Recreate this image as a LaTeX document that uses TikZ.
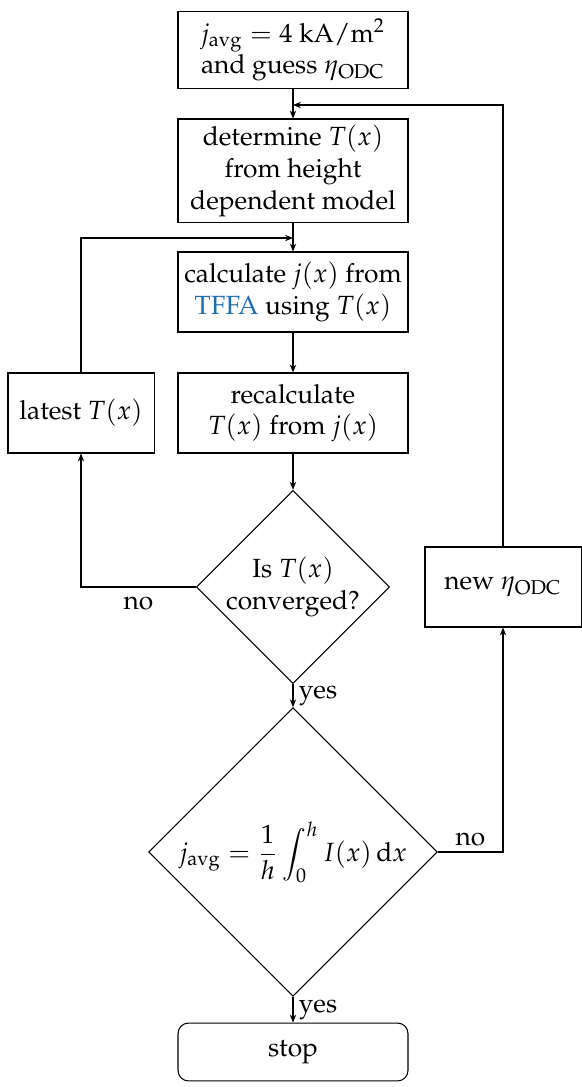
\documentclass[tikz,border=0pt]{standalone}
\usepackage[T1]{fontenc}
\usepackage{mathpazo}
\usetikzlibrary{shapes.geometric,arrows.meta}
\definecolor{linkblue}{RGB}{30,110,180}
\begin{document}
\begin{tikzpicture}[x=0.38pt,y=-0.38pt,
  line width=0.4pt,
  flow/.style={-{Stealth[length=3pt,width=2.4pt]}},
  procbox/.style={draw, rectangle, align=center, inner sep=0pt,
    minimum width=87.4pt, minimum height=30.4pt},
  sidebox/.style={draw, rectangle, align=center, inner sep=0pt,
    minimum height=30.4pt},
  decision/.style={draw, diamond, aspect=1, align=center, inner sep=0pt},
  endbox/.style={draw, rectangle, rounded corners=4pt, align=center,
    inner sep=0pt, minimum width=87.4pt, minimum height=22pt},
  lbl/.style={inner sep=2pt}
]
\useasboundingbox (0,0) rectangle (581,1087);

% main column
\node[procbox, minimum height=29.6pt] (init) at (293,50)
  {$j_{\mathrm{avg}} = 4\ \mathrm{kA/m^2}$\\ and guess $\eta_{\mathrm{ODC}}$};
\node[procbox, minimum height=39.5pt] (model) at (293,171)
  {determine $T(x)$\\ from height\\ dependent model};
\node[procbox] (tffa) at (293,292)
  {calculate $j(x)$ from\\ \textcolor{linkblue}{TFFA} using $T(x)$};
\node[procbox] (recalc) at (293,413)
  {recalculate\\ $T(x)$ from $j(x)$};
\node[decision, minimum width=72.2pt, minimum height=71.4pt] (conv) at (293,587)
  {Is $T(x)$\\ converged?};
\node[decision, minimum width=106.4pt, minimum height=106.4pt] (avg) at (293,852)
  {$\displaystyle j_{\mathrm{avg}} = \frac{1}{h}\int_0^h I(x)\,\mathrm{d}x$};
\node[endbox] (stop) at (293,1052) {stop};

% side boxes
\node[sidebox, minimum width=55.5pt] (latest) at (81,413) {latest $T(x)$};
\node[sidebox, minimum width=59.3pt] (neweta) at (503,587) {new $\eta_{\mathrm{ODC}}$};

% junctions on the main column
\coordinate (outer) at (293,105);
\coordinate (inner) at (293,238);

% connectors
\draw[flow] (init) -- (model);
\draw[flow] (model) -- (tffa);
\draw[flow] (tffa) -- (recalc);
\draw[flow] (recalc) -- (conv);
\draw[flow] (conv) -- node[lbl, right] {yes} (avg);
\draw[flow] (avg) -- node[lbl, right] {yes} (stop);
\draw[flow] (conv) -| node[lbl, below, inner sep=3.5pt, pos=0.25] {no} (latest);
\draw[flow] (latest) |- (inner);
\draw[flow] (avg) -| node[lbl, above, pos=0.25] {no} (neweta);
\draw[flow] (neweta) |- (outer);
\end{tikzpicture}
\end{document}
